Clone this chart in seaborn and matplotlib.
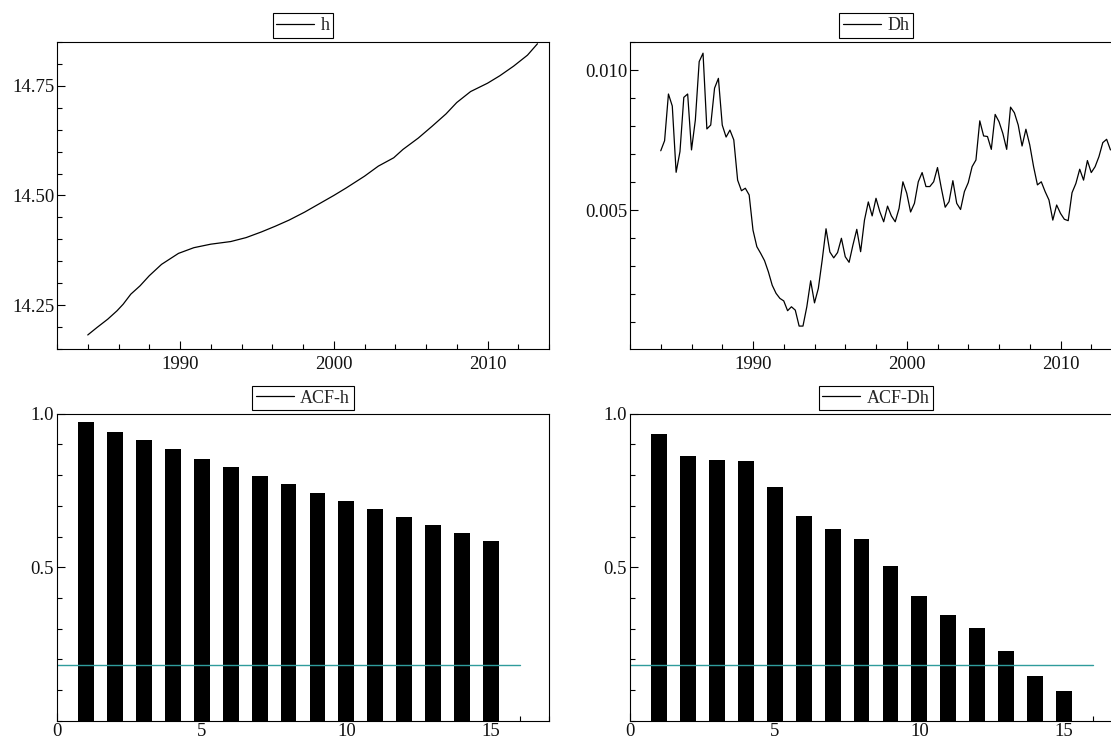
import numpy as np
import pandas as pd
import matplotlib
matplotlib.use("Agg")
import matplotlib.pyplot as plt
import seaborn as sns
from matplotlib.lines import Line2D
from matplotlib.ticker import MultipleLocator, FixedLocator, FormatStrFormatter

# ---------------- data ----------------
h_years = [1984.0, 1984.6, 1985.3, 1985.9, 1986.3, 1986.8, 1987.4, 1988.0, 1988.8,
           1989.9, 1990.9, 1992.0, 1993.3, 1994.3, 1995.3, 1996.2, 1997.1, 1998.1,
           1999.0, 2000.0, 2000.8, 2002.0, 2002.9, 2003.9, 2004.5, 2005.5, 2006.4,
           2007.3, 2008.0, 2008.9, 2010.0, 2010.8, 2011.7, 2012.6, 2013.25]
h_values = [14.182, 14.199, 14.218, 14.237, 14.252, 14.275, 14.294, 14.317, 14.343,
            14.368, 14.381, 14.389, 14.395, 14.404, 14.417, 14.430, 14.444, 14.462,
            14.480, 14.500, 14.517, 14.544, 14.567, 14.586, 14.605, 14.631, 14.658,
            14.686, 14.712, 14.737, 14.756, 14.773, 14.795, 14.820, 14.846]

dh_start = 1984.0  # first quarter
dh_values = [0.00712, 0.00748, 0.00915, 0.00872, 0.00635, 0.00709, 0.00903, 0.00915,
             0.00715, 0.00822, 0.01031, 0.01061, 0.00790, 0.00804, 0.00936, 0.00971,
             0.00804, 0.00761, 0.00786, 0.00751, 0.00607, 0.00569, 0.00578, 0.00554,
             0.00428, 0.00369, 0.00345, 0.00319, 0.00279, 0.00231, 0.00202, 0.00184,
             0.00175, 0.00140, 0.00154, 0.00142, 0.00085, 0.00085, 0.00154, 0.00247,
             0.00168, 0.00220, 0.00321, 0.00433, 0.00350, 0.00329, 0.00348, 0.00399,
             0.00333, 0.00313, 0.00375, 0.00431, 0.00351, 0.00464, 0.00529, 0.00479,
             0.00542, 0.00494, 0.00458, 0.00514, 0.00479, 0.00458, 0.00506, 0.00601,
             0.00560, 0.00493, 0.00524, 0.00601, 0.00634, 0.00584, 0.00584, 0.00601,
             0.00652, 0.00578, 0.00510, 0.00530, 0.00605, 0.00524, 0.00502, 0.00566,
             0.00598, 0.00655, 0.00679, 0.00819, 0.00765, 0.00763, 0.00717, 0.00842,
             0.00816, 0.00774, 0.00717, 0.00868, 0.00848, 0.00804, 0.00729, 0.00789,
             0.00733, 0.00655, 0.00590, 0.00601, 0.00566, 0.00536, 0.00464, 0.00518,
             0.00488, 0.00467, 0.00462, 0.00562, 0.00595, 0.00646, 0.00607, 0.00677,
             0.00634, 0.00655, 0.00691, 0.00741, 0.00753, 0.00715]

lags = list(range(1, 16))
acf_h = [0.972, 0.942, 0.913, 0.884, 0.854, 0.826, 0.798, 0.770, 0.741, 0.715,
         0.689, 0.663, 0.637, 0.611, 0.585]
acf_dh = [0.934, 0.863, 0.850, 0.846, 0.760, 0.668, 0.624, 0.592, 0.505, 0.405,
          0.345, 0.302, 0.228, 0.147, 0.096]
band_x = [0, 16]
band_y = [0.183, 0.183]

legend_labels = ["h", "Dh", "ACF-h", "ACF-Dh"]

# ---------------- style ----------------
sns.set_style("ticks")
plt.rcParams["font.family"] = ["Liberation Serif", "DejaVu Serif"]
plt.rcParams["axes.linewidth"] = 0.8
plt.rcParams["axes.edgecolor"] = "black"

dh_dates = dh_start + np.arange(len(dh_values)) / 4.0
df_h = pd.DataFrame({"date": h_years, "h": h_values})
df_dh = pd.DataFrame({"date": dh_dates, "Dh": dh_values})
df_acf = pd.DataFrame({"lag": lags, "acf_h": acf_h, "acf_dh": acf_dh})

W, H = 1111, 742
fig = plt.figure(figsize=(W / 100, H / 100), dpi=100)

def pos(x0, y0, w, hgt):
    return [x0 / W, 1 - (y0 + hgt) / H, w / W, hgt / H]

ax1 = fig.add_axes(pos(57, 42, 492, 307))
ax2 = fig.add_axes(pos(630, 42, 492, 307))
ax3 = fig.add_axes(pos(57, 413.7, 492, 307))
ax4 = fig.add_axes(pos(630, 413.7, 492, 307))

LW = 0.9
TEAL = "#2f9c9c"

sns.lineplot(data=df_h, x="date", y="h", ax=ax1, color="black", lw=LW)
sns.lineplot(data=df_dh, x="date", y="Dh", ax=ax2, color="black", lw=LW)

for ax, col in ((ax3, "acf_h"), (ax4, "acf_dh")):
    ax.set_axisbelow(True)
    sns.barplot(data=df_acf, x="lag", y=col, ax=ax, native_scale=True,
                color="black", saturation=1, width=0.55, linewidth=0,
                errorbar=None)
    sns.lineplot(x=band_x, y=band_y, ax=ax, color=TEAL, lw=1.0)

def style(ax):
    ax.set_xlabel("")
    ax.set_ylabel("")
    for s in ax.spines.values():
        s.set_visible(True)
        s.set_linewidth(0.8)
        s.set_color("black")
    ax.tick_params(which="both", direction="in", top=False, right=False,
                   colors="black", labelcolor="#111111", labelsize=13.5)
    ax.tick_params(which="major", length=6, width=0.8)
    ax.tick_params(which="minor", length=3.5, width=0.8)

for ax in (ax1, ax2):
    style(ax)
    ax.set_xlim(1982, 2014)
    ax.xaxis.set_major_locator(FixedLocator([1990, 2000, 2010]))
    ax.xaxis.set_minor_locator(MultipleLocator(2))
    ax.tick_params(axis="x", which="both", pad=5)
    ax.tick_params(axis="y", which="both", pad=2)

ax1.set_ylim(14.15, 14.85)
ax1.yaxis.set_major_locator(FixedLocator([14.25, 14.50, 14.75]))
ax1.yaxis.set_minor_locator(MultipleLocator(0.05))
ax1.yaxis.set_major_formatter(FormatStrFormatter("%.2f"))

ax2.set_ylim(0.00003, 0.01101)
ax2.yaxis.set_major_locator(FixedLocator([0.005, 0.010]))
ax2.yaxis.set_minor_locator(MultipleLocator(0.001))
ax2.yaxis.set_major_formatter(FormatStrFormatter("%.3f"))

for ax in (ax3, ax4):
    style(ax)
    ax.set_xlim(0, 17)
    ax.set_ylim(0, 1.0)
    ax.xaxis.set_major_locator(FixedLocator([0, 5, 10, 15]))
    ax.xaxis.set_minor_locator(MultipleLocator(1))
    ax.xaxis.set_major_formatter(FormatStrFormatter("%d"))
    ax.yaxis.set_major_locator(FixedLocator([0.5, 1.0]))
    ax.yaxis.set_minor_locator(MultipleLocator(0.1))
    ax.yaxis.set_major_formatter(FormatStrFormatter("%.1f"))
    ax.tick_params(axis="x", which="both", pad=1.5)
    ax.tick_params(axis="y", which="both", pad=2)

def add_legend(ax, label, yoff):
    handle = Line2D([], [], color="black", lw=LW)
    leg = ax.legend(handles=[handle], labels=[label], loc="center",
                    bbox_to_anchor=(0.5, yoff), bbox_transform=ax.transAxes,
                    frameon=True, fancybox=False, shadow=False,
                    fontsize=13, handlelength=2.1, handletextpad=0.35,
                    borderpad=0.2, borderaxespad=0)
    fr = leg.get_frame()
    fr.set_edgecolor("black")
    fr.set_linewidth(0.8)
    fr.set_alpha(1)

add_legend(ax1, legend_labels[0], 1 + 16.5 / 307)
add_legend(ax2, legend_labels[1], 1 + 16.5 / 307)
add_legend(ax3, legend_labels[2], 1 + 15.5 / 307)
add_legend(ax4, legend_labels[3], 1 + 15.5 / 307)

fig.savefig("out.png", dpi=100)
